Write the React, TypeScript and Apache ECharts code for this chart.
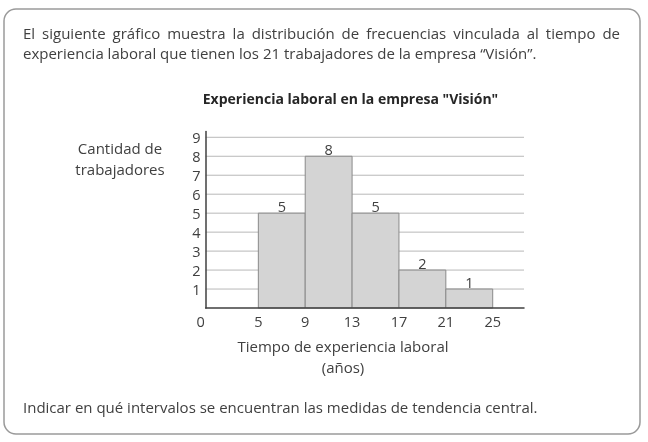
import React, { useEffect, useRef } from "react";
import * as echarts from "echarts";

// ---- data ----
const binStarts = [5, 9, 13, 17, 21];
const binEnds = [9, 13, 17, 21, 25];
const counts = [5, 8, 5, 2, 1];
const xTickValues = [5, 9, 13, 17, 21, 25];
const yTickValues = [1, 2, 3, 4, 5, 6, 7, 8, 9];

const introLine1 =
  "El siguiente gráfico muestra la distribución de frecuencias vinculada al tiempo de";
const introLine2 =
  "experiencia laboral que tienen los 21 trabajadores de la empresa “Visión”.";
const chartTitle = 'Experiencia laboral en la empresa "Visión"';
const yName = ["Cantidad de", "trabajadores"];
const xName = ["Tiempo de experiencia laboral", "(años)"];
const question =
  "Indicar en qué intervalos se encuentran las medidas de tendencia central.";

// axis extents
const X_MIN = 0.5;
const X_MAX = 27.67;
const Y_MAX = 9.3;

const FONT = "'Open Sans', 'Noto Sans', sans-serif";
const TEXT = "#404040";
const BODY_SIZE = 15;
const AXIS_SIZE = 14.5;

function justifiedWords(text: string, x0: number, x1: number, y: number) {
  const words = text.split(" ");
  const c = document.createElement("canvas").getContext("2d")!;
  c.font = `${BODY_SIZE}px ${FONT}`;
  const widths = words.map((w) => c.measureText(w).width);
  const total = widths.reduce((a, b) => a + b, 0);
  const gap = (x1 - x0 - total) / (words.length - 1);
  let x = x0;
  return words.map((w, i) => {
    const el = {
      type: "text",
      x,
      y,
      style: {
        text: w,
        fill: TEXT,
        fontSize: BODY_SIZE,
        fontFamily: FONT,
        verticalAlign: "middle",
      },
    };
    x += widths[i] + gap;
    return el;
  });
}

export default function App() {
  const ref = useRef<HTMLDivElement>(null);
  useEffect(() => {
    if (!ref.current) return;
    const chart = echarts.init(ref.current, undefined, { renderer: "svg" });

    const txt = (text: string, x: number, y: number, extra: any = {}) => ({
      type: "text",
      x,
      y,
      style: {
        text,
        fill: TEXT,
        fontSize: BODY_SIZE,
        fontFamily: FONT,
        verticalAlign: "middle",
        ...extra,
      },
    });

    chart.setOption({
      animation: false,
      title: {
        text: chartTitle,
        left: 345.5,
        top: 86,
        textAlign: "center",
        textStyle: {
          fontFamily: FONT,
          fontSize: 14,
          fontWeight: "bold",
          color: "#262626",
        },
      },
      graphic: [
        {
          type: "rect",
          z: -10,
          shape: { x: 4, y: 9, width: 636, height: 425, r: 12 },
          style: { fill: "#fff", stroke: "#9a9a9a", lineWidth: 1.5 },
        },
        ...justifiedWords(introLine1, 23, 620, 33),
        txt(introLine2, 23, 53),
        txt(yName[0], 120, 148, { align: "center" }),
        txt(yName[1], 120, 169, { align: "center" }),
        txt(xName[0], 343, 346, { align: "center" }),
        txt(xName[1], 343, 367, { align: "center" }),
        txt(question, 23, 407),
      ],
      grid: {
        left: 205.6,
        top: 131.6,
        width: 318.4,
        height: 176.4,
        outerBoundsMode: "none",
      },
      xAxis: {
        type: "value",
        min: X_MIN,
        max: X_MAX,
        interval: 0.5,
        z: 5,
        splitLine: { show: false },
        axisTick: { show: false },
        axisLine: { show: true, lineStyle: { color: "#404040", width: 1.5 } },
        axisLabel: {
          margin: 6,
          color: TEXT,
          fontFamily: FONT,
          fontSize: AXIS_SIZE,
          formatter: (v: number) => {
            if (Math.abs(v - X_MIN) < 1e-6) return "{z|0}";
            return xTickValues.includes(v) ? String(v) : "";
          },
          rich: {
            z: {
              color: TEXT,
              fontFamily: FONT,
              fontSize: AXIS_SIZE,
              padding: [0, 10, 0, 0],
            },
          },
        },
      },
      yAxis: {
        type: "value",
        min: 0,
        max: Y_MAX,
        interval: 1,
        z: 5,
        splitLine: { show: false },
        axisTick: { show: false },
        axisLine: { show: true, lineStyle: { color: "#404040", width: 1.5 } },
        axisLabel: {
          margin: 5,
          color: TEXT,
          fontFamily: FONT,
          fontSize: AXIS_SIZE,
          formatter: (v: number) => (yTickValues.includes(v) ? String(v) : ""),
        },
      },
      series: [
        {
          type: "custom",
          z: 1,
          data: yTickValues.map((v) => [X_MIN, v, X_MAX]),
          encode: { x: [0, 2], y: 1 },
          renderItem: (_p: any, api: any) => {
            const a = api.coord([api.value(0), api.value(1)]);
            const b = api.coord([api.value(2), api.value(1)]);
            return {
              type: "line",
              shape: { x1: a[0], y1: a[1], x2: b[0], y2: b[1] },
              style: { stroke: "#b8b8b8", lineWidth: 1 },
            };
          },
        },
        {
          type: "custom",
          z: 2,
          data: binStarts.map((s, i) => [s, binEnds[i], counts[i]]),
          encode: { x: [0, 1], y: 2 },
          renderItem: (_p: any, api: any) => {
            const lo = api.value(0);
            const hi = api.value(1);
            const c = api.value(2);
            const p1 = api.coord([lo, c]);
            const p2 = api.coord([hi, 0]);
            return {
              type: "group",
              children: [
                {
                  type: "rect",
                  shape: {
                    x: p1[0],
                    y: p1[1],
                    width: p2[0] - p1[0],
                    height: p2[1] - p1[1],
                  },
                  style: { fill: "#d4d4d4", stroke: "#8a8a8a", lineWidth: 1 },
                },
                {
                  type: "text",
                  x: (p1[0] + p2[0]) / 2,
                  y: p1[1] - 7,
                  style: {
                    text: String(c),
                    fill: TEXT,
                    fontSize: AXIS_SIZE,
                    fontFamily: FONT,
                    align: "center",
                    verticalAlign: "middle",
                  },
                },
              ],
            };
          },
        },
      ],
    });
    return () => chart.dispose();
  }, []);
  return (
    <div
      ref={ref}
      style={{ position: "fixed", left: 0, top: 0, width: 648, height: 442 }}
    />
  );
}
